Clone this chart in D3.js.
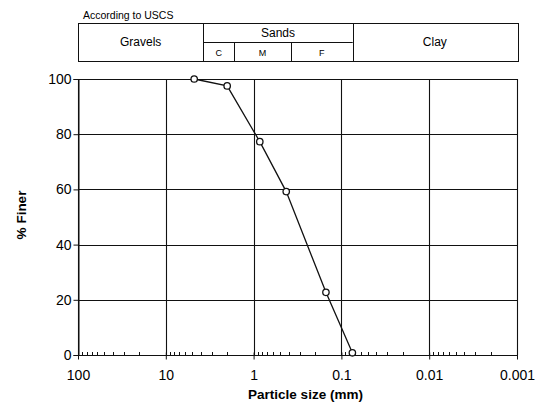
<!DOCTYPE html>
<html>
<head>
<meta charset="utf-8">
<script src="https://cdn.jsdelivr.net/npm/d3@7"></script>
<style>
  html, body { margin: 0; padding: 0; background: #fff; }
  svg { display: block; font-family: "Liberation Sans", Arial, sans-serif; }
</style>
</head>
<body>
<svg id="chart" width="546" height="414"></svg>
<script>
// ---- data ----
const sizes = [4.75, 2.0, 0.85, 0.425, 0.15, 0.075];   // particle size (mm)
const finer = [100, 97.5, 77.3, 59.2, 22.7, 0.8];      // % finer
const xTicks = [100, 10, 1, 0.1, 0.01, 0.001];
const xTickLabels = ["100", "10", "1", "0.1", "0.01", "0.001"];
const yTicks = [0, 20, 40, 60, 80, 100];
// USCS classification bands (boundaries in mm)
const mainBands = ["Gravels", "Sands", "Clay"];
const mainBounds = [100, 3.74, 0.0743, 0.001];
const sandBands = ["C", "M", "F"];
const sandBounds = [3.74, 1.67, 0.376, 0.0743];

// ---- layout ----
const svg = d3.select("#chart");
const pLeft = 78, pRight = 517, pTop = 79, pBottom = 355;
const x = d3.scaleLog().domain([100, 0.001]).range([pLeft, pRight]);
const y = d3.scaleLinear().domain([0, 100]).range([pBottom, pTop]);
const ink = "#111";

// grid
const g = svg.append("g");
g.selectAll(".vg").data(xTicks).join("line")
  .attr("x1", d => Math.round(x(d)) + 0.5).attr("x2", d => Math.round(x(d)) + 0.5)
  .attr("y1", pTop).attr("y2", pBottom)
  .attr("stroke", ink).attr("stroke-width", 1.1);
g.selectAll(".hg").data(yTicks).join("line")
  .attr("x1", pLeft).attr("x2", pRight + 0.5)
  .attr("y1", d => Math.round(y(d)) + 0.5).attr("y2", d => Math.round(y(d)) + 0.5)
  .attr("stroke", ink).attr("stroke-width", 1.1);

// y axis
const yAxis = svg.append("g")
  .attr("transform", `translate(${pLeft + 0.5},0)`)
  .call(d3.axisLeft(y).tickValues(yTicks).tickSize(5).tickPadding(2).tickFormat(d3.format("d")));
yAxis.select(".domain").attr("stroke", ink);
yAxis.selectAll(".tick line").attr("stroke", ink);
yAxis.selectAll("text").attr("font-size", 14).attr("fill", "#000")
  .attr("font-family", "Liberation Sans, Arial, sans-serif");

// x axis (major ticks cross below)
const xAxis = svg.append("g")
  .attr("transform", `translate(0,${pBottom + 0.5})`)
  .call(d3.axisBottom(x).tickValues(xTicks).tickSize(4).tickPadding(11)
    .tickFormat((d, i) => xTickLabels[i]));
xAxis.select(".domain").attr("stroke", ink).attr("d", `M${pLeft},0H${pRight + 1}`);
xAxis.selectAll(".tick line").attr("stroke", ink).attr("y1", -3);
xAxis.selectAll("text").attr("font-size", 14).attr("fill", "#000")
  .attr("font-family", "Liberation Sans, Arial, sans-serif");

// minor ticks (inward)
const minor = [];
for (let e = 2; e >= -2; e--) {
  for (let m = 9; m >= 2; m--) minor.push(m * Math.pow(10, e - 1));
}
svg.append("g").selectAll("line").data(minor).join("line")
  .attr("x1", d => Math.round(x(d)) + 0.5).attr("x2", d => Math.round(x(d)) + 0.5)
  .attr("y1", pBottom).attr("y2", pBottom - 3)
  .attr("stroke", ink).attr("stroke-width", 1);

// axis titles
svg.append("text").attr("x", (pLeft + pRight) / 2 + 8).attr("y", 399)
  .attr("text-anchor", "middle").attr("font-size", 13.5).attr("font-weight", "bold")
  .text("Particle size (mm)");
svg.append("text").attr("transform", "translate(26,215) rotate(-90)")
  .attr("text-anchor", "middle").attr("font-size", 13.5).attr("font-weight", "bold")
  .text("% Finer");

// data line and markers
const pts = sizes.map((s, i) => [s, finer[i]]);
svg.append("path").datum(pts)
  .attr("d", d3.line().x(d => x(d[0])).y(d => y(d[1])))
  .attr("fill", "none").attr("stroke", ink).attr("stroke-width", 1.3);
svg.append("g").selectAll("circle").data(pts).join("circle")
  .attr("cx", d => x(d[0])).attr("cy", d => y(d[1])).attr("r", 3.2)
  .attr("fill", "#fff").attr("stroke", ink).attr("stroke-width", 1.3);

// classification table
const tTop = 23, tMid = 42, tBot = 61;
const tab = svg.append("g");
svg.append("text").attr("x", 83).attr("y", 18.5).attr("font-size", 10.5).text("According to USCS");
tab.append("rect").attr("x", pLeft + 0.5).attr("y", tTop + 0.5)
  .attr("width", 518 - pLeft).attr("height", tBot - tTop)
  .attr("fill", "none").attr("stroke", ink).attr("stroke-width", 1);
tab.selectAll(".mdiv").data(mainBounds.slice(1, -1)).join("line")
  .attr("x1", d => Math.round(x(d)) + 0.5).attr("x2", d => Math.round(x(d)) + 0.5)
  .attr("y1", tTop).attr("y2", tBot).attr("stroke", ink);
tab.append("line")
  .attr("x1", x(sandBounds[0])).attr("x2", x(sandBounds[3]))
  .attr("y1", tMid + 0.5).attr("y2", tMid + 0.5).attr("stroke", ink);
tab.selectAll(".sdiv").data(sandBounds.slice(1, -1)).join("line")
  .attr("x1", d => Math.round(x(d)) + 0.5).attr("x2", d => Math.round(x(d)) + 0.5)
  .attr("y1", tMid).attr("y2", tBot).attr("stroke", ink);
const xr = d => Math.min(x(d), 518);
tab.selectAll(".mlab").data(mainBands).join("text")
  .attr("x", (d, i) => (x(mainBounds[i]) + xr(mainBounds[i + 1])) / 2)
  .attr("y", (d, i) => i === 1 ? 36.5 : 46)
  .attr("text-anchor", "middle").attr("font-size", 12).text(d => d);
tab.selectAll(".slab").data(sandBands).join("text")
  .attr("x", (d, i) => (x(sandBounds[i]) + x(sandBounds[i + 1])) / 2)
  .attr("y", 55.5)
  .attr("text-anchor", "middle").attr("font-size", 9).text(d => d);
</script>
</body>
</html>
